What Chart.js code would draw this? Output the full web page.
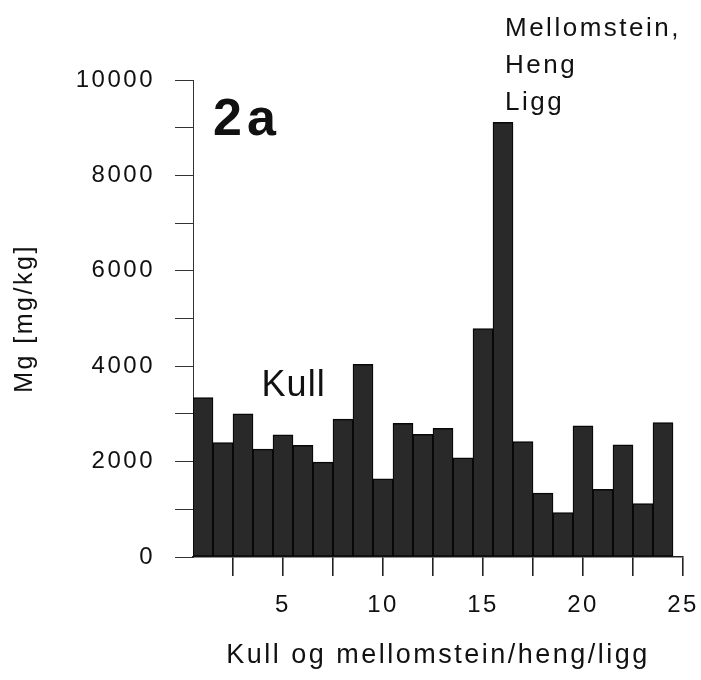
<!DOCTYPE html>
<html>
<head>
<meta charset="utf-8">
<script src="https://cdn.jsdelivr.net/npm/chart.js@4.4.1/dist/chart.umd.min.js"></script>
<style>
html,body{margin:0;padding:0;background:#fff;}
#wrap{width:701px;height:680px;}
</style>
</head>
<body>
<div id="wrap"><canvas id="c" width="701" height="680"></canvas></div>
<script>
// ---- data ----
const categories = [1,2,3,4,5,6,7,8,9,10,11,12,13,14,15,16,17,18,19,20,21,22,23,24];
const mgValues   = [3340,2400,3000,2260,2560,2340,1990,2890,4040,1640,2800,2570,2700,2080,4790,9110,2420,1340,930,2750,1420,2350,1120,2820];
const xTickValues = [2.5,5,7.5,10,12.5,15,17.5,20,22.5,25];
const xTickLabels = ['5','10','15','20','25'];
const yTickLabels = ['0','2000','4000','6000','8000','10000'];
const xTitle = 'Kull og mellomstein/heng/ligg';
const yTitle = 'Mg [mg/kg]';
const panelLabel = '2a';
const groupLabels = ['Kull','Mellomstein,','Heng','Ligg'];

// ---- styling / layout ----
const FONT = '"Liberation Sans", Arial, Helvetica, sans-serif';
const INK = '#111';
const annotations = [
  {text: panelLabel,     x: 1.5,  y: 8850,  font: 'bold 52px ' + FONT, spacing: '5px'},
  {text: groupLabels[0], x: 3.93, y: 3380,  font: '36px ' + FONT, spacing: '1px'},
  {text: groupLabels[1], x: 16.1, y: 10920, font: '26px ' + FONT, spacing: '2.5px'},
  {text: groupLabels[2], x: 16.1, y: 10150, font: '26px ' + FONT, spacing: '2.5px'},
  {text: groupLabels[3], x: 16.1, y: 9370,  font: '26px ' + FONT, spacing: '2.5px'}
];

const spacingPlugin = {
  id: 'spacing',
  beforeLayout(chart) { chart.ctx.letterSpacing = '2.5px'; },
  beforeDraw(chart) { chart.ctx.letterSpacing = '2.5px'; }
};
const annotPlugin = {
  id: 'annot',
  afterDraw(chart) {
    const {ctx, scales: {x, y}} = chart;
    annotations.forEach(a => {
      ctx.save();
      ctx.font = a.font;
      ctx.letterSpacing = a.spacing;
      ctx.fillStyle = INK;
      ctx.textAlign = 'left';
      ctx.textBaseline = 'alphabetic';
      ctx.fillText(a.text, x.getPixelForValue(a.x), y.getPixelForValue(a.y));
      ctx.restore();
    });
  }
};

new Chart(document.getElementById('c'), {
  type: 'bar',
  data: {
    datasets: [{
      data: categories.map((c, i) => ({x: c, y: mgValues[i]})),
      backgroundColor: '#292929',
      borderColor: '#080808',
      borderWidth: 1.5,
      borderSkipped: false,
      barPercentage: 1.0,
      categoryPercentage: 1.0
    }]
  },
  options: {
    responsive: false,
    animation: false,
    devicePixelRatio: 1,
    layout: {padding: {top: 80, right: 18, left: 0, bottom: 0}},
    plugins: {legend: {display: false}, tooltip: {enabled: false}},
    scales: {
      x: {
        type: 'linear',
        min: 0.5,
        max: 25,
        offset: false,
        afterBuildTicks(scale) { scale.ticks = xTickValues.map(v => ({value: v})); },
        afterFit(scale) { scale.height = 123; scale.paddingLeft = 0; scale.paddingRight = 0; },
        ticks: {
          autoSkip: false,
          maxRotation: 0,
          padding: 15,
          color: INK,
          font: {family: FONT, size: 24},
          callback(v) { const s = String(v); return xTickLabels.includes(s) ? s : ''; }
        },
        grid: {offset: false, drawOnChartArea: false, drawTicks: true, tickLength: 19, tickColor: '#222', lineWidth: 1.6},
        border: {display: true, color: '#222', width: 1.5},
        title: {display: true, text: xTitle, color: INK, font: {family: FONT, size: 27}, padding: {top: 0, bottom: 8}}
      },
      y: {
        min: 0,
        max: 10000,
        afterFit(scale) { scale.width = 193; scale.paddingTop = 0; scale.paddingBottom = 0; },
        ticks: {
          stepSize: 1000,
          padding: 20,
          color: INK,
          font: {family: FONT, size: 24},
          callback(v) { const s = String(v); return yTickLabels.includes(s) ? s : ''; }
        },
        grid: {offset: false, drawOnChartArea: false, drawTicks: true, tickLength: 18, tickColor: '#333', lineWidth: 1},
        border: {display: true, color: '#333', width: 1},
        title: {display: true, text: yTitle, color: INK, font: {family: FONT, size: 25}, padding: {top: 10, bottom: 0}}
      }
    }
  },
  plugins: [spacingPlugin, annotPlugin]
});
</script>
</body>
</html>
